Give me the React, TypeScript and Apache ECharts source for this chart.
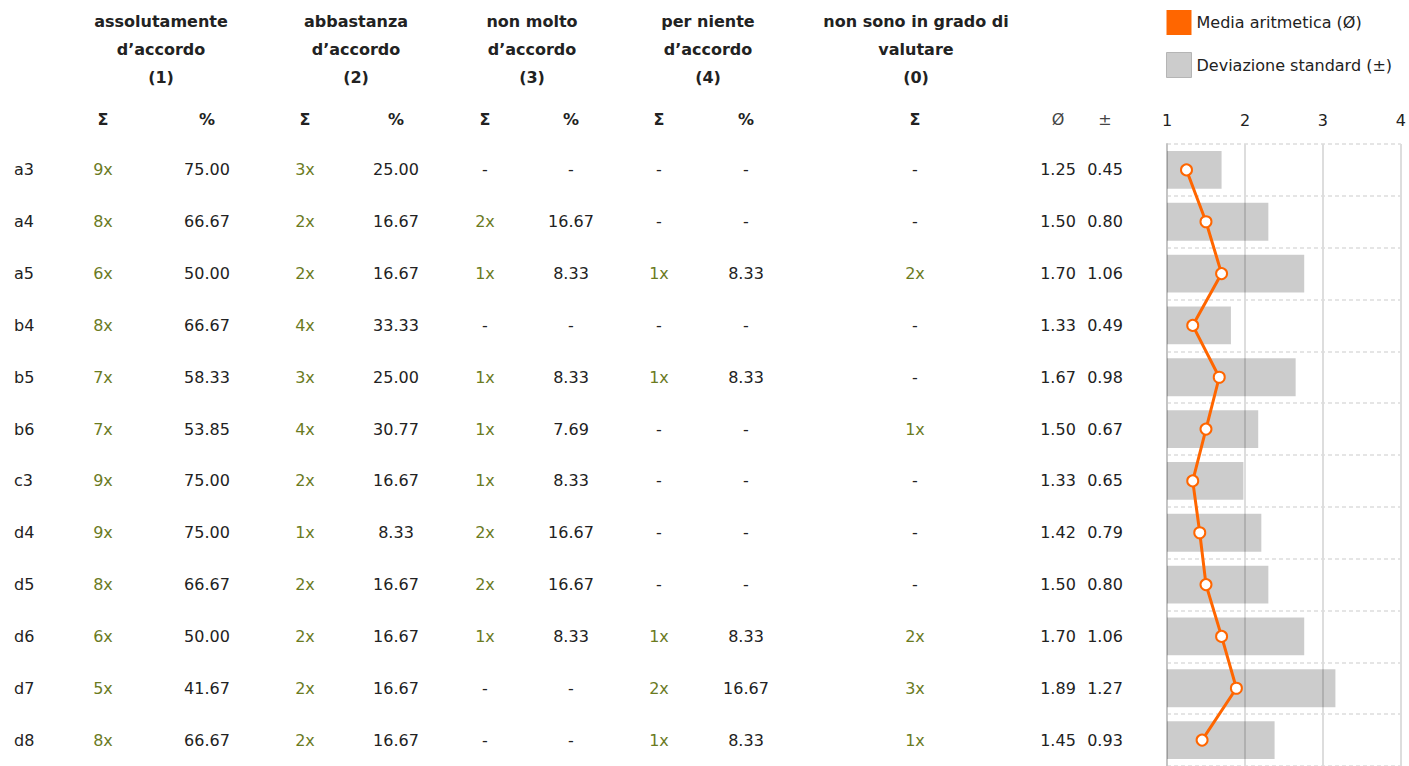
import React, { useEffect, useRef } from 'react';
import * as echarts from 'echarts';

// ---------- data ----------
const rows = ['a3', 'a4', 'a5', 'b4', 'b5', 'b6', 'c3', 'd4', 'd5', 'd6', 'd7', 'd8'];
const count1 = [9, 8, 6, 8, 7, 7, 9, 9, 8, 6, 5, 8];
const pct1 = [75.0, 66.67, 50.0, 66.67, 58.33, 53.85, 75.0, 75.0, 66.67, 50.0, 41.67, 66.67];
const count2 = [3, 2, 2, 4, 3, 4, 2, 1, 2, 2, 2, 2];
const pct2 = [25.0, 16.67, 16.67, 33.33, 25.0, 30.77, 16.67, 8.33, 16.67, 16.67, 16.67, 16.67];
const count3 = [0, 2, 1, 0, 1, 1, 1, 2, 2, 1, 0, 0];
const pct3 = [0, 16.67, 8.33, 0, 8.33, 7.69, 8.33, 16.67, 16.67, 8.33, 0, 0];
const count4 = [0, 0, 1, 0, 1, 0, 0, 0, 0, 1, 2, 1];
const pct4 = [0, 0, 8.33, 0, 8.33, 0, 0, 0, 0, 8.33, 16.67, 8.33];
const count0 = [0, 0, 2, 0, 0, 1, 0, 0, 0, 2, 3, 1];
const means = [1.25, 1.5, 1.7, 1.33, 1.67, 1.5, 1.33, 1.42, 1.5, 1.7, 1.89, 1.45];
const stdDevs = [0.45, 0.8, 1.06, 0.49, 0.98, 0.67, 0.65, 0.79, 0.8, 1.06, 1.27, 0.93];

const groupTitles = [
  'assolutamente\nd’accordo\n(1)',
  'abbastanza\nd’accordo\n(2)',
  'non molto\nd’accordo\n(3)',
  'per niente\nd’accordo\n(4)',
  'non sono in grado di\nvalutare\n(0)',
];
const xTicks = [1, 2, 3, 4];
const legendMean = 'Media aritmetica (Ø)';
const legendStd = 'Deviazione standard (±)';

// ---------- styles ----------
const FONT = '"DejaVu Sans", Verdana, sans-serif';
const TEXT = '#222222';
const OLIVE = '#6b7b1f';
const ORANGE = '#ff6600';

const fmtCount = (v: number) => (v ? `${v}x` : '-');
const fmtPct = (v: number) => (v ? v.toFixed(2) : '-');

export default function App() {
  const ref = useRef<HTMLDivElement>(null);

  useEffect(() => {
    const chart = echarts.init(ref.current!, null, { renderer: 'svg' });
    const GRID_LEFT = 1167;

    type Col = { center: number; vals: string[]; olive?: boolean; align?: string };
    const cols: Col[] = [
      { center: 14, vals: rows, align: 'left' },
      { center: 103, vals: count1.map(fmtCount), olive: true },
      { center: 207, vals: pct1.map(fmtPct) },
      { center: 305, vals: count2.map(fmtCount), olive: true },
      { center: 396, vals: pct2.map(fmtPct) },
      { center: 485, vals: count3.map(fmtCount), olive: true },
      { center: 571, vals: pct3.map(fmtPct) },
      { center: 659, vals: count4.map(fmtCount), olive: true },
      { center: 746, vals: pct4.map(fmtPct) },
      { center: 915, vals: count0.map(fmtCount), olive: true },
      { center: 1058, vals: means.map((v) => v.toFixed(2)) },
      { center: 1105, vals: stdDevs.map((v) => v.toFixed(2)) },
    ];

    const tableAxes = cols.map((c) => ({
      type: 'category',
      gridIndex: 0,
      data: rows,
      inverse: true,
      position: 'left',
      offset: 0,
      axisLine: { show: false },
      axisTick: { show: false },
      splitLine: { show: false },
      axisLabel: {
        interval: 0,
        margin: GRID_LEFT - c.center,
        align: c.align || 'center',
        fontFamily: FONT,
        fontSize: 16,
        color: TEXT,
        formatter: (_v: string, idx: number) => {
          const s = c.vals[idx];
          if (c.olive) return s === '-' ? `{k|${s}}` : `{g|${s}}`;
          return s;
        },
        rich: {
          g: { color: OLIVE, fontFamily: FONT, fontSize: 16 },
          k: { color: TEXT, fontFamily: FONT, fontSize: 16 },
        },
      },
    }));

    const titleX = [161, 356, 532, 708, 916];
    const subHeaders = [
      { x: 103, t: 'Σ', b: true },
      { x: 207, t: '%', b: true },
      { x: 305, t: 'Σ', b: true },
      { x: 396, t: '%', b: true },
      { x: 485, t: 'Σ', b: true },
      { x: 571, t: '%', b: true },
      { x: 659, t: 'Σ', b: true },
      { x: 746, t: '%', b: true },
      { x: 915, t: 'Σ', b: true },
      { x: 1058, t: 'Ø', b: false },
      { x: 1105, t: '±', b: false },
    ];

    const graphics: any[] = [
      ...groupTitles.map((t, i) => ({
        type: 'text',
        x: titleX[i],
        y: 7,
        style: {
          text: t,
          fontFamily: FONT,
          fontSize: 16,
          fontWeight: 'bold',
          fill: TEXT,
          align: 'center',
          verticalAlign: 'top',
          lineHeight: 28,
        },
      })),
      ...subHeaders.map((h) => ({
        type: 'text',
        x: h.x,
        y: 119,
        style: {
          text: h.t,
          fontFamily: FONT,
          fontSize: 16,
          fontWeight: h.b ? 'bold' : 'normal',
          fill: h.b ? TEXT : '#444',
          align: 'center',
          verticalAlign: 'middle',
        },
      })),
    ];

    chart.setOption({
      animation: false,
      textStyle: { fontFamily: FONT },
      grid: { left: GRID_LEFT, right: 5, top: 144, height: 626.2, containLabel: false },
      legend: {
        orient: 'vertical',
        left: 1166,
        top: 10,
        padding: 0,
        itemWidth: 25,
        itemHeight: 25,
        itemGap: 17,
        selectedMode: false,
        textStyle: { fontFamily: FONT, fontSize: 16, color: TEXT },
        data: [
          { name: legendMean, icon: 'rect', itemStyle: { color: ORANGE, borderWidth: 0 } },
          { name: legendStd, icon: 'rect', itemStyle: { color: '#cccccc', borderColor: '#b5b5b5', borderWidth: 1 } },
        ],
      },
      xAxis: {
        type: 'value',
        position: 'top',
        min: xTicks[0],
        max: xTicks[xTicks.length - 1],
        interval: 1,
        axisLine: { show: false },
        axisTick: { show: false },
        axisLabel: { fontFamily: FONT, fontSize: 16, color: TEXT, margin: 16 },
        splitLine: { show: true, lineStyle: { color: '#dddddd', width: 2 } },
      },
      yAxis: [
        {
          type: 'category',
          data: rows,
          inverse: true,
          position: 'left',
          axisLine: { show: true, lineStyle: { color: '#c4c4c4', width: 2 } },
          axisTick: { show: false },
          axisLabel: { show: false },
          splitLine: {
            show: true,
            interval: 0,
            lineStyle: { color: '#dddddd', width: 1.5, type: [4, 3] },
          },
        },
        ...tableAxes,
      ],
      graphic: graphics,
      series: [
        {
          type: 'custom',
          name: legendStd,
          xAxisIndex: 0,
          yAxisIndex: 0,
          clip: true,
          encode: { x: 0, y: 1 },
          data: rows.map((_r, i) => [means[i] + stdDevs[i], i]),
          renderItem: (_params: any, api: any) => {
            const idx = api.value(1);
            const end = api.coord([api.value(0), idx]);
            const start = api.coord([xTicks[0], idx]);
            const h = api.size([0, 1])[1] * 0.73;
            return {
              type: 'rect',
              shape: { x: start[0], y: start[1] - h / 2, width: end[0] - start[0], height: h },
              style: { fill: 'rgba(0,0,0,0.2)' },
            };
          },
          z: 1,
        },
        {
          type: 'line',
          name: legendMean,
          xAxisIndex: 0,
          yAxisIndex: 0,
          data: rows.map((r, i) => [means[i], r]),
          symbol: 'circle',
          symbolSize: 11,
          lineStyle: { color: ORANGE, width: 3 },
          itemStyle: { color: '#ffffff', borderColor: ORANGE, borderWidth: 2 },
          z: 3,
        },
      ],
    });

    return () => chart.dispose();
  }, []);

  return (
    <div
      ref={ref}
      style={{ position: 'absolute', left: 0, top: 0, width: 1409, height: 766 }}
    />
  );
}
